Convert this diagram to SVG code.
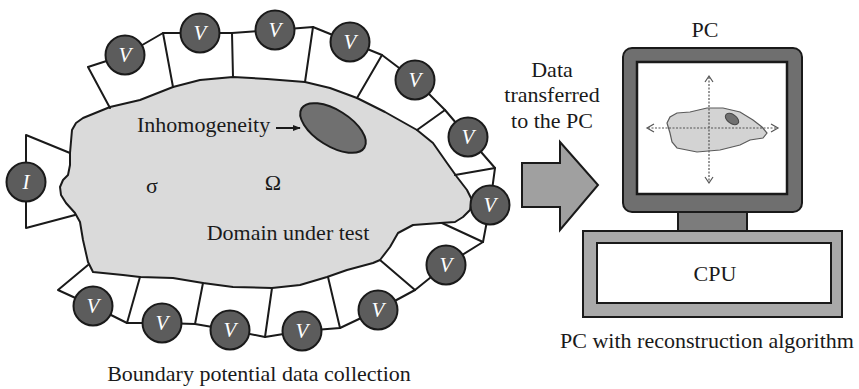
<svg xmlns="http://www.w3.org/2000/svg" width="859" height="389" viewBox="0 0 859 389" font-family="'Liberation Serif', 'Times New Roman', Times, serif">
  <defs>
    <style>
      text { font-family: 'Liberation Serif', 'Times New Roman', Times, serif; }
      .txt { font-size: 22px; fill: #1a1a1a; }
      .ev { font-size: 21px; font-style: italic; fill: #ffffff; text-anchor: middle; }
      .wire { stroke: #1a1a1a; stroke-width: 2; fill: none; stroke-linejoin: round; stroke-linecap: round; }
      .electrode { fill: #5c5c5c; stroke: #1a1a1a; stroke-width: 2; }
      .axis { stroke: #555; stroke-width: 1.2; stroke-dasharray: 2 1.5; fill: none; }
      .axhead { stroke: #555; stroke-width: 1.2; fill: none; }
    </style>
    <marker id="arr" viewBox="0 0 10 10" refX="9" refY="5" markerWidth="8" markerHeight="8" orient="auto" markerUnits="userSpaceOnUse">
      <path d="M0,1 L10,5 L0,9 Z" fill="#1a1a1a"/>
    </marker>
  </defs>

  <!-- domain under test -->
  <g id="domain">
    <path d="M110,107 L140,100 L173,87 L200,80 L233,77 L267,79 L305,82 L330,88 L357,98 L385,112 L417,130 L433,143 L447,163 L457,177 L467,190 L472,200 L470,210 L463,217 L455,222 L440,223 L413,225 L398,233 L390,247 L380,260 L373,263 L347,270 L327,277 L300,285 L272,288 L233,287 L203,283 L173,278 L140,277 L123,275 L93,272 L88,262 L83,240 L80,222 L75,213 L66,203 L61,195 L60,187 L63,180 L68,175 L70,165 L70,153 L72,130 L76,123 L83,118 Z" fill="#dadada" stroke="#1a1a1a" stroke-width="2" stroke-linejoin="round"/>
    <text class="txt" x="152" y="193" text-anchor="middle">σ</text>
    <text class="txt" x="273" y="190" text-anchor="middle">Ω</text>
    <text class="txt" x="288" y="240" text-anchor="middle">Domain under test</text>
  </g>

  <!-- inhomogeneity -->
  <g id="inhomogeneity">
    <ellipse cx="333" cy="128" rx="37" ry="18" transform="rotate(32 333 128)" fill="#707070" stroke="#1a1a1a" stroke-width="2"/>
    <text class="txt" x="137" y="132">Inhomogeneity</text>
  </g>

  <!-- connectors: electrode wiring and transfer arrows -->
  <g id="connectors">
    <!-- current electrode wiring -->
    <polyline class="wire" points="70,153 26,135 26,228 75,215"/>
    <!-- outer voltage electrode chain -->
    <polyline class="wire" points="110,108 88,67 125,55 163,33 200,33 232,33 275,30 313,27 350,42 382,55 415,80 445,110 468,137 495,168 490,205 483,242 446,265 415,290 378,310 340,328 302,331 265,337 230,330 195,324 162,323 127,323 93,306 58,290 88,265"/>
    <!-- radial spokes to the boundary -->
    <line class="wire" x1="163" y1="33" x2="173" y2="87"/>
    <line class="wire" x1="232" y1="33" x2="233" y2="77"/>
    <line class="wire" x1="313" y1="27" x2="305" y2="82"/>
    <line class="wire" x1="382" y1="55" x2="357" y2="98"/>
    <line class="wire" x1="445" y1="110" x2="417" y2="130"/>
    <line class="wire" x1="495" y1="168" x2="455" y2="175"/>
    <line class="wire" x1="483" y1="242" x2="442" y2="223"/>
    <line class="wire" x1="415" y1="290" x2="380" y2="260"/>
    <line class="wire" x1="340" y1="328" x2="328" y2="277"/>
    <line class="wire" x1="265" y1="337" x2="272" y2="288"/>
    <line class="wire" x1="195" y1="324" x2="203" y2="283"/>
    <line class="wire" x1="127" y1="323" x2="140" y2="277"/>
    <!-- pointer to inhomogeneity -->
    <line x1="276" y1="128" x2="300" y2="128" stroke="#1a1a1a" stroke-width="2" marker-end="url(#arr)"/>
    <!-- data transfer arrow -->
    <polygon points="522,163 560,163 560,142 598,185 560,230 560,207 522,207" fill="#a0a0a0" stroke="#1a1a1a" stroke-width="2" stroke-linejoin="miter"/>
  </g>

  <!-- electrodes -->
  <g id="electrode-I">
    <circle class="electrode" cx="26" cy="182" r="19.5"/>
    <text class="ev" x="26" y="189">I</text>
  </g>
  <g id="electrodes-V">
    <g id="v1"><circle class="electrode" cx="125" cy="55" r="19.5"/><text class="ev" x="125" y="62">V</text></g>
    <g id="v2"><circle class="electrode" cx="200" cy="33" r="19.5"/><text class="ev" x="200" y="40">V</text></g>
    <g id="v3"><circle class="electrode" cx="275" cy="30" r="19.5"/><text class="ev" x="275" y="37">V</text></g>
    <g id="v4"><circle class="electrode" cx="350" cy="42" r="19.5"/><text class="ev" x="350" y="49">V</text></g>
    <g id="v5"><circle class="electrode" cx="415" cy="80" r="19.5"/><text class="ev" x="415" y="87">V</text></g>
    <g id="v6"><circle class="electrode" cx="468" cy="137" r="19.5"/><text class="ev" x="468" y="144">V</text></g>
    <g id="v7"><circle class="electrode" cx="490" cy="205" r="19.5"/><text class="ev" x="490" y="212">V</text></g>
    <g id="v8"><circle class="electrode" cx="446" cy="265" r="19.5"/><text class="ev" x="446" y="272">V</text></g>
    <g id="v9"><circle class="electrode" cx="378" cy="310" r="19.5"/><text class="ev" x="378" y="317">V</text></g>
    <g id="v10"><circle class="electrode" cx="302" cy="331" r="19.5"/><text class="ev" x="302" y="338">V</text></g>
    <g id="v11"><circle class="electrode" cx="230" cy="330" r="19.5"/><text class="ev" x="230" y="337">V</text></g>
    <g id="v12"><circle class="electrode" cx="162" cy="323" r="19.5"/><text class="ev" x="162" y="330">V</text></g>
    <g id="v13"><circle class="electrode" cx="93" cy="306" r="19.5"/><text class="ev" x="93" y="313">V</text></g>
  </g>

  <g id="caption-left">
    <text class="txt" x="259" y="381" text-anchor="middle">Boundary potential data collection</text>
  </g>

  <g id="transfer-label">
    <text class="txt" x="552" y="77" text-anchor="middle">Data</text>
    <text class="txt" x="552" y="102" text-anchor="middle">transferred</text>
    <text class="txt" x="552" y="128" text-anchor="middle">to the PC</text>
  </g>

  <!-- computer -->
  <g id="pc">
    <text class="txt" x="705" y="37" text-anchor="middle">PC</text>
    <rect x="623" y="48" width="179" height="164" rx="9" fill="#6f6f6f" stroke="#1a1a1a" stroke-width="2"/>
    <rect x="637" y="62" width="150" height="132" fill="#ffffff" stroke="#1a1a1a" stroke-width="2.5"/>
    <!-- reconstructed image -->
    <path d="M677,113 L690,112 L707,108 L723,108 L740,112 L753,120 L762,127 L767,133 L763,138 L750,140 L740,145 L720,150 L697,152 L677,148 L672,142 L670,133 L667,123 L670,117 Z" fill="#d3d3d3" stroke="#5a5a5a" stroke-width="1.2"/>
    <ellipse cx="732" cy="119" rx="7.5" ry="4.5" transform="rotate(35 732 119)" fill="#707070" stroke="#444" stroke-width="1"/>
    <line class="axis" x1="709" y1="77" x2="709" y2="182"/>
    <line class="axis" x1="648" y1="128" x2="777" y2="128"/>
    <polyline class="axhead" points="705,82 709,76 713,82"/>
    <polyline class="axhead" points="705,177 709,183 713,177"/>
    <polyline class="axhead" points="654,124 647,128 654,132"/>
    <polyline class="axhead" points="771,124 778,128 771,132"/>
    <!-- stand -->
    <rect x="678" y="212" width="69" height="19" fill="#7c7c7c" stroke="#1a1a1a" stroke-width="2"/>
  </g>

  <g id="cpu">
    <rect x="583" y="231" width="259" height="86" fill="#a9a9a9" stroke="#1a1a1a" stroke-width="2"/>
    <rect x="597" y="243" width="234" height="60" fill="#ffffff" stroke="#1a1a1a" stroke-width="2"/>
    <text class="txt" x="715" y="281" text-anchor="middle">CPU</text>
    <text class="txt" x="707" y="348" text-anchor="middle">PC with reconstruction algorithm</text>
  </g>
</svg>
